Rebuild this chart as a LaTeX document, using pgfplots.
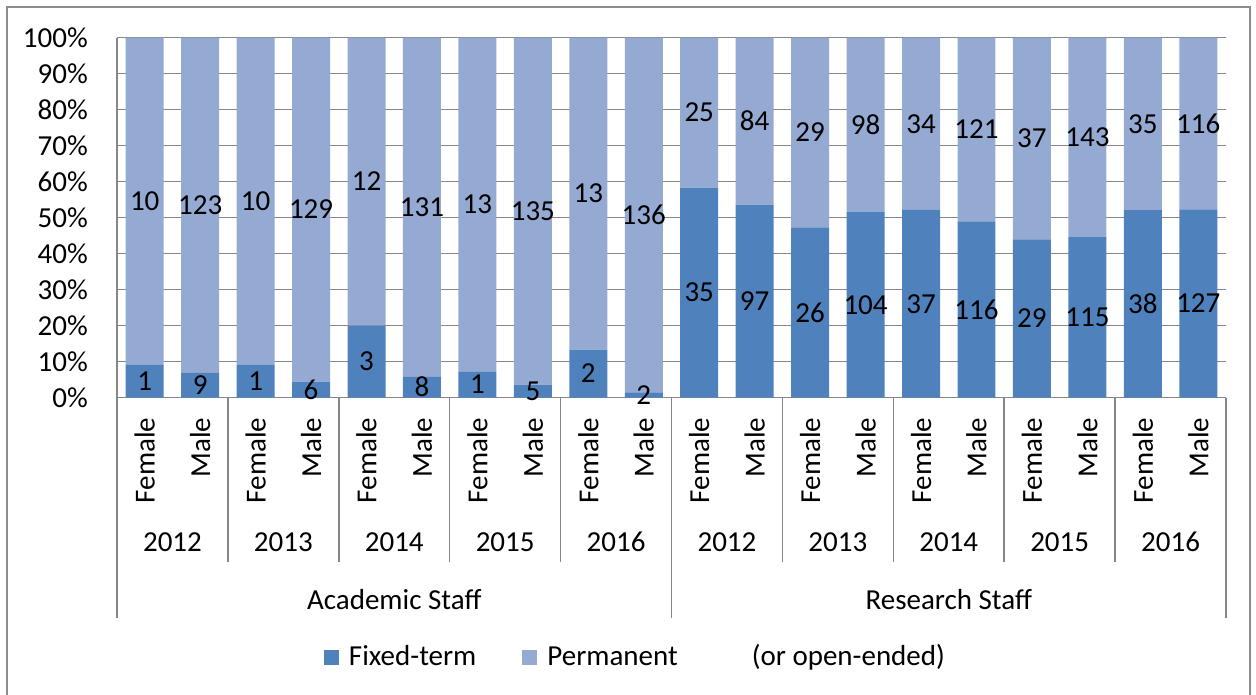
\documentclass[border=0pt]{standalone}
\usepackage{pgfplots}
\pgfplotsset{compat=1.18}
\usepackage{pgfplotstable}
\usepackage{fontspec}
\setmainfont{Carlito}
\definecolor{fixc}{HTML}{4F81BD}
\definecolor{permc}{HTML}{95AAD2}
\definecolor{gridc}{HTML}{878787}
\definecolor{framec}{HTML}{8C8C8C}

\pgfplotstableread{
x fix perm fixn permn fixmid permmid
0 9.0909 90.9091 1 10 4.545 54.545
1 6.8182 93.1818 9 123 3.409 53.409
2 9.0909 90.9091 1 10 4.545 54.545
3 4.4444 95.5556 6 129 2.222 52.222
4 20.0000 80.0000 3 12 10.000 60.000
5 5.7554 94.2446 8 131 2.878 52.878
6 7.1429 92.8571 1 13 3.571 53.571
7 3.5714 96.4286 5 135 1.786 51.786
8 13.3333 86.6667 2 13 6.667 56.667
9 1.4493 98.5507 2 136 0.725 50.725
10 58.3333 41.6667 35 25 29.167 79.167
11 53.5912 46.4088 97 84 26.796 76.796
12 47.2727 52.7273 26 29 23.636 73.636
13 51.4851 48.5149 104 98 25.743 75.743
14 52.1127 47.8873 37 34 26.056 76.056
15 48.9451 51.0549 116 121 24.473 74.473
16 43.9394 56.0606 29 37 21.970 71.970
17 44.5736 55.4264 115 143 22.287 72.287
18 52.0548 47.9452 38 35 26.027 76.027
19 52.2634 47.7366 127 116 26.132 76.132
}\data

\newcommand\chartfont{\fontsize{29bp}{34bp}\selectfont}

\pgfplotsset{
  geom/.style={
    at={(117bp,-397.5bp)}, anchor=south west,
    scale only axis, width=1109bp, height=360bp,
    xmin=-0.5, xmax=19.5, ymin=0, ymax=100,
  },
}

\begin{document}
\chartfont
\begin{tikzpicture}[x=1bp,y=1bp]
\useasboundingbox (0,0) rectangle (1256,-695);
\draw[framec, line width=2bp] (7,-697) -- (7,-7) -- (1250,-7) -- (1250,-697);
\begin{axis}[geom,
  font=\chartfont,
  ybar stacked, bar width=0.685,
  axis lines*=left,
  axis line style={draw=gridc, line width=1.5bp},
  ymajorgrids, grid style={draw=gridc, line width=1.5bp},
  major tick length=0pt,
  ytick={0,10,...,100},
  yticklabels={0\%,10\%,20\%,30\%,40\%,50\%,60\%,70\%,80\%,90\%,100\%},
  yticklabel style={anchor=east, inner sep=0pt},
  yticklabel shift=29bp,
  xtick={0,...,19},
  xticklabels={Female,Male,Female,Male,Female,Male,Female,Male,Female,Male,Female,Male,Female,Male,Female,Male,Female,Male,Female,Male},
  xticklabel style={rotate=90, anchor=east, inner sep=0pt},
  xticklabel shift=20bp,
  clip=false,
  legend columns=2,
  legend style={at={(0.4675,-0.7212)}, anchor=center, draw=none, fill=none,
    font=\chartfont,
    /tikz/every odd column/.append style={column sep=8bp},
    /tikz/every even column/.append style={column sep=44bp}},
]
\addplot[fill=fixc, draw=none,
  legend image code/.code={\fill[fixc] (0bp,-7.5bp) rectangle (15bp,7.5bp);}]
  table[x=x, y=fix]{\data};
\addlegendentry{Fixed-term}
\addplot[fill=permc, draw=none,
  legend image code/.code={\fill[permc] (0bp,-7.5bp) rectangle (15bp,7.5bp);}]
  table[x=x, y=perm]{\data};
\addlegendentry{Permanent\hspace{74bp}(or open-ended)}

\foreach \s in {1.5,3.5,5.5,7.5,11.5,13.5,15.5,17.5}{
  \edef\tmp{\noexpand\draw[gridc, line width=1.5bp] (axis cs:\s,0) -- ([yshift=-164.5bp]axis cs:\s,0);}\tmp
}
\foreach \s in {-0.5,9.5,19.5}{
  \edef\tmp{\noexpand\draw[gridc, line width=1.5bp] (axis cs:\s,0) -- ([yshift=-220.5bp]axis cs:\s,0);}\tmp
}
\foreach \s/\yr in {0.5/2012,2.5/2013,4.5/2014,6.5/2015,8.5/2016,10.5/2012,12.5/2013,14.5/2014,16.5/2015,18.5/2016}{
  \edef\tmp{\noexpand\node[inner sep=0pt] at ([yshift=-144.5bp]axis cs:\s,0) {\yr};}\tmp
}
\node[inner sep=0pt] at ([yshift=-202.5bp]axis cs:4.5,0) {Academic Staff};
\node[inner sep=0pt] at ([yshift=-202.5bp]axis cs:14.5,0) {Research Staff};
\end{axis}

\begin{axis}[geom, hide axis, clip=false,
  every node near coord/.append style={anchor=center, inner sep=0pt, black,
    font=\chartfont}]
\addplot[draw=none, mark=none, nodes near coords, point meta=explicit symbolic]
  table[x=x, y=fixmid, meta=fixn]{\data};
\addplot[draw=none, mark=none, nodes near coords, point meta=explicit symbolic]
  table[x=x, y=permmid, meta=permn]{\data};
\end{axis}
\end{tikzpicture}
\end{document}
